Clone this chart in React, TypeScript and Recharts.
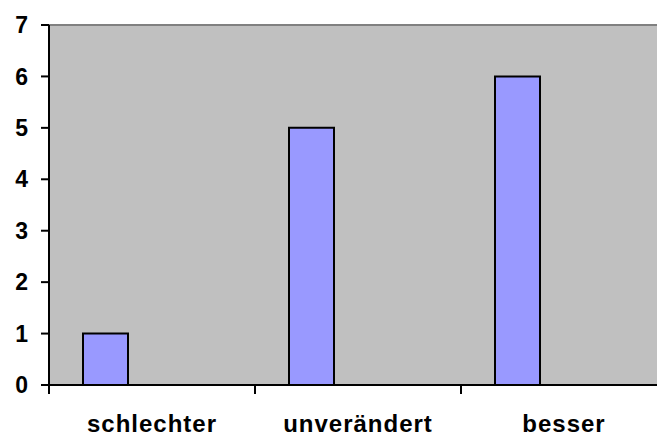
import React from 'react';
import { BarChart, Bar, XAxis, YAxis, CartesianGrid, ReferenceLine } from 'recharts';

// Kategorien und Werte
const categories = ['schlechter', 'unverändert', 'besser'];
const values = [1, 5, 6];
// zweite, leere Reihe (wie im Original: Balken sitzen links in der Kategorie)
const emptySeries = [null, null, null];
const yTicks = [0, 1, 2, 3, 4, 5, 6, 7];

const data = categories.map((name, i) => ({
  name,
  value: values[i],
  empty: emptySeries[i],
}));

const FONT = '"Liberation Sans", Arial, Helvetica, sans-serif';

// x-axis tick: label centred, tick mark at the left edge of the category band
const CategoryTick = (props: any) => {
  const { x, y, payload } = props;
  const half = payload && payload.offset ? payload.offset : 103;
  const axisY = y - 30;
  return (
    <g>
      <line x1={x - half} x2={x - half} y1={axisY} y2={axisY + 9} stroke="#000" strokeWidth={2} />
      <text
        x={x}
        y={y}
        dy="0.71em"
        textAnchor="middle"
        style={{ fontFamily: FONT, fontWeight: 700, fontSize: 24, letterSpacing: 1 }}
        fill="#000"
      >
        {payload.value}
      </text>
    </g>
  );
};

const ValueTick = (props: any) => {
  const { x, y, payload } = props;
  return (
    <text
      x={x}
      y={y}
      dy="0.355em"
      textAnchor="end"
      style={{ fontFamily: FONT, fontWeight: 700, fontSize: 23 }}
      fill="#000"
    >
      {payload.value}
    </text>
  );
};

export default function App() {
  return (
    <div
      style={{
        position: 'absolute',
        left: 0,
        top: 0,
        width: 657,
        height: 437,
        overflow: 'hidden',
        background: '#fff',
      }}
    >
      <BarChart
        width={667}
        height={437}
        data={data}
        margin={{ top: 25, right: 0, bottom: 0, left: 0 }}
        barCategoryGap={34}
        barGap={48}
      >
        <CartesianGrid fill="#C0C0C0" stroke="none" horizontal={false} vertical={false} />
        <ReferenceLine y={7} stroke="#808080" strokeWidth={2} />
        <XAxis
          dataKey="name"
          height={52}
          tickSize={0}
          tickMargin={30}
          interval={0}
          axisLine={{ stroke: '#000', strokeWidth: 2 }}
          tick={<CategoryTick />}
        />
        <YAxis
          width={49}
          domain={[0, 7]}
          ticks={yTicks}
          interval={0}
          tickSize={8}
          tickMargin={13}
          axisLine={{ stroke: '#000', strokeWidth: 2 }}
          tickLine={{ stroke: '#000', strokeWidth: 2 }}
          tick={<ValueTick />}
        />
        <Bar dataKey="value" fill="#9999FF" stroke="#000" strokeWidth={2} isAnimationActive={false} />
        <Bar dataKey="empty" fill="#9999FF" stroke="#000" strokeWidth={2} isAnimationActive={false} />
      </BarChart>
    </div>
  );
}
